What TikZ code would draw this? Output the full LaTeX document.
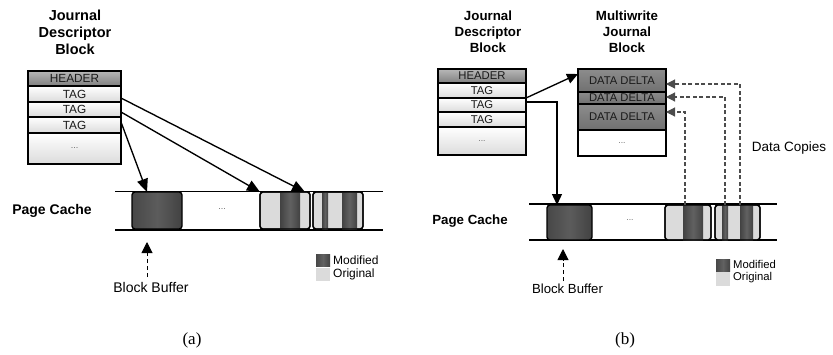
\documentclass[tikz,border=0pt]{standalone}
\usepackage{fontspec}
\setmainfont{Liberation Sans}
\newfontfamily\capfont{Liberation Serif}
\usetikzlibrary{arrows.meta,calc}
\tikzset{
  fs/.style={font=\fontsize{#1}{#1}\selectfont},
  ttl/.style 2 args={align=center, inner sep=0, font=\bfseries\fontsize{#1}{#2}\selectfont},
  cell/.style={draw, line width=1.35pt, anchor=north west, inner sep=0, outer sep=0,
    top color=white, bottom color=black!14, text=black!90},
  hdr/.style={cell, top color=black!28, bottom color=black!50},
  delta/.style={cell, top color=black!45, bottom color=black!56},
  dcell/.style={cell, top color=white, bottom color=white},
  dblock/.style={draw, line width=1.35pt, rounded corners=3pt, anchor=north west, inner sep=0, outer sep=0,
    left color=black!72, right color=black!74, middle color=black!64},
  pblock/.style={draw, line width=1.35pt, rounded corners=3pt, anchor=north west, inner sep=0, outer sep=0,
    fill=black!14},
  pborder/.style={line width=1.35pt, rounded corners=3pt},
  stripe/.style={left color=black!74, right color=black!74, middle color=black!62},
  pcline/.style={line width=1.35pt},
  arr/.style={line width=1.35pt, -{Triangle[length=13pt,width=11pt]}},
  arrb/.style={line width=1.35pt, -{Triangle[length=11pt,width=10pt]}},
  dasharr/.style={line width=1.1pt, black!70, dash pattern=on 4pt off 2.5pt, -{Triangle[length=9pt,width=9pt]}},
  bbarr/.style={line width=1pt, dash pattern=on 4pt off 3pt, -{Triangle[length=11pt,width=11pt]}},
  modsq/.style={inner sep=0, outer sep=0, minimum width=14pt, left color=black!72, right color=black!74, middle color=black!62},
  origsq/.style={inner sep=0, outer sep=0, minimum width=14pt, fill=black!14},
}
\begin{document}
\begin{tikzpicture}[x=1pt,y=-1pt]
\useasboundingbox (0,0) rectangle (833,354);

% ================= (a) =================
\node[ttl={14.5}{17}] (ata) at (75,32) {Journal\\Descriptor\\Block};
\node[hdr, minimum width=93pt, minimum height=15pt, fs=11.8] (ah) at (28,71) {HEADER};
\node[cell, minimum width=93pt, minimum height=16pt, fs=11.8] (at1) at (28,86) {TAG};
\node[cell, minimum width=93pt, minimum height=15pt, fs=11.8] (at2) at (28,102) {TAG};
\node[cell, minimum width=93pt, minimum height=16pt, fs=11.8] (at3) at (28,117) {TAG};
\node[cell, minimum width=93pt, minimum height=31pt, fs=9, text=black!60] (adt) at (28,133) {...};

\coordinate (apl1) at (115,191.5); \coordinate (apr1) at (383,191.5);
\coordinate (apl2) at (115,230);   \coordinate (apr2) at (383,230);
\draw[pcline] (apl1) -- (apr1);
\draw[pcline] (apl2) -- (apr2);
\node[font=\bfseries\fontsize{14}{14}\selectfont, inner sep=0] (apc) at (52,211) {Page Cache};

\node[dblock, minimum width=50pt, minimum height=37pt] (ab1) at (132,192) {};
\node[fs=9, text=black!60, inner sep=0] (adots) at (222,209) {...};
\node[pblock, minimum width=50pt, minimum height=37pt] (ab2) at (260,192) {};
\shade[stripe] (280,192) rectangle (300,229);
\draw[pborder] (ab2.north west) rectangle (ab2.south east);
\node[pblock, minimum width=50pt, minimum height=37pt] (ab3) at (313,192) {};
\shade[stripe] (322,192) rectangle (328,229);
\shade[stripe] (342,192) rectangle (357,229);
\draw[pborder] (ab3.north west) rectangle (ab3.south east);

\draw[arr] ([yshift=-4pt]at1.east) -- ([xshift=-5pt]ab2.north east);
\draw[arr] ([yshift=-2.5pt]at2.east) -- (ab2.north west);
\draw[arr] ([yshift=3pt]at3.east) -- ([xshift=-10pt]ab1.north);

\coordinate (abtip) at (147,242); \coordinate (abbot) at (147,277);
\draw[bbarr] (abbot) -- (abtip);
\node[fs=14, inner sep=0] (abb) at (151,287) {Block Buffer};

\node[modsq, minimum height=12.5pt] (amod) at (323,260.5) {};
\node[origsq, minimum height=13.5pt] (aorig) at (323,274.5) {};
\node[fs=12, anchor=west, inner sep=0] (amodt) at (333,260.5) {Modified};
\node[fs=12, anchor=west, inner sep=0] (aorigt) at (333,274.5) {Original};

\node[font=\capfont\fontsize{17}{17}\selectfont, inner sep=0] (capa) at (192,340) {(a)};

% ================= (b) =================
\node[ttl={13.3}{16}] (btj) at (488,31.5) {Journal\\Descriptor\\Block};
\node[ttl={13.3}{16}] (btm) at (627,31.5) {Multiwrite\\Journal\\Block};

\node[hdr, minimum width=88pt, minimum height=14pt, fs=11.3] (bh) at (438,69) {HEADER};
\node[cell, minimum width=88pt, minimum height=15pt, fs=11.3] (bt1) at (438,83) {TAG};
\node[cell, minimum width=88pt, minimum height=14pt, fs=11.3] (bt2) at (438,98) {TAG};
\node[cell, minimum width=88pt, minimum height=15pt, fs=11.3] (bt3) at (438,112) {TAG};
\node[cell, minimum width=88pt, minimum height=28pt, fs=8.5, text=black!60] (bdt) at (438,127) {...};

\node[delta, minimum width=88pt, minimum height=23pt, fs=11.2] (bd1) at (578,69) {DATA DELTA};
\node[delta, minimum width=88pt, minimum height=12pt, fs=11.2] (bd2) at (578,92) {DATA DELTA};
\node[delta, minimum width=88pt, minimum height=26pt, fs=11.2] (bd3) at (578,104) {DATA DELTA};
\node[dcell, minimum width=88pt, minimum height=26pt, fs=8.5, text=black!60] (bdd) at (578,130) {...};

\coordinate (bpl1) at (529,204); \coordinate (bpr1) at (777,204);
\coordinate (bpl2) at (529,240); \coordinate (bpr2) at (777,240);
\draw[pcline] (bpl1) -- (bpr1);
\draw[pcline] (bpl2) -- (bpr2);
\node[font=\bfseries\fontsize{13.3}{13.3}\selectfont, inner sep=0] (bpc) at (470,221) {Page Cache};

\node[dblock, minimum width=45pt, minimum height=35pt] (bb1) at (547,205) {};
\node[fs=8.5, text=black!60, inner sep=0] (bdots) at (630,220) {...};
\node[pblock, minimum width=46pt, minimum height=35pt] (bb2) at (665,205) {};
\shade[stripe] (683,205) rectangle (703,240);
\draw[pborder] (bb2.north west) rectangle (bb2.south east);
\node[pblock, minimum width=45pt, minimum height=35pt] (bb3) at (715,205) {};
\shade[stripe] (722,205) rectangle (728,240);
\shade[stripe] (740,205) rectangle (753,240);
\draw[pborder] (bb3.north west) rectangle (bb3.south east);

\draw[arrb] (bt2.north east) -- ([yshift=6.5pt]bd1.west);
\draw[arrb] ([yshift=3pt]bt2.east) -| ([xshift=-12.5pt]bb1.north);

\draw[dasharr] ([xshift=-3pt]bb2.north) |- ([yshift=5pt]bd3.east);
\draw[dasharr] ([xshift=-12.5pt]bb3.north) |- ([yshift=1pt]bd2.east);
\draw[dasharr] ([xshift=2.5pt]bb3.north) |- ([yshift=-3.5pt]bd1.east);
\node[fs=13.5, inner sep=0] (bdc) at (789,148) {Data Copies};

\coordinate (bbtip) at (563,249); \coordinate (bbbot) at (563,281);
\draw[bbarr] (bbbot) -- (bbtip);
\node[fs=13.2, inner sep=0] (bbb) at (567.5,289) {Block Buffer};

\node[modsq, minimum height=12pt] (bmod) at (723,265) {};
\node[origsq, minimum height=14pt] (borig) at (723,278.5) {};
\node[fs=11.3, anchor=west, inner sep=0] (bmodt) at (733,264) {Modified};
\node[fs=11.3, anchor=west, inner sep=0] (borigt) at (733,278) {Original};

\node[font=\capfont\fontsize{17}{17}\selectfont, inner sep=0] (capb) at (625,340) {(b)};
\end{tikzpicture}
\end{document}
